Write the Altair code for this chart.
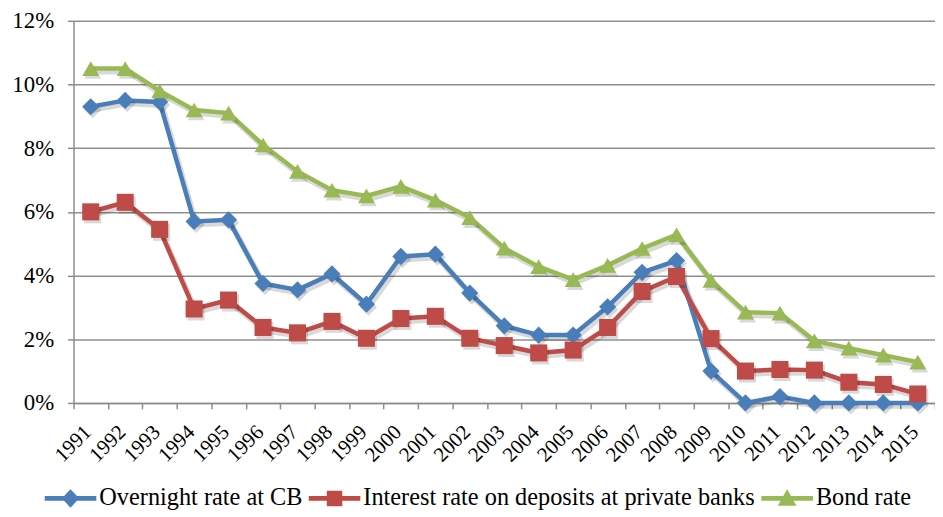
import altair as alt
import pandas as pd

FONT = "Liberation Serif, DejaVu Serif, serif"

years = [str(y) for y in range(1991, 2016)]
series = ["Overnight rate at CB", "Interest rate on deposits at private banks", "Bond rate"]
overnight = [9.3, 9.5, 9.45, 5.7, 5.75, 3.75, 3.55, 4.05, 3.1, 4.6, 4.67, 3.45, 2.42,
             2.13, 2.13, 3.02, 4.1, 4.47, 1.0, 0.0, 0.2, 0.0, 0.0, 0.0, 0.0]
deposits = [6.0, 6.3, 5.45, 2.95, 3.23, 2.37, 2.2, 2.56, 2.03, 2.65, 2.72, 2.03, 1.8,
            1.57, 1.66, 2.37, 3.5, 3.97, 2.02, 1.0, 1.05, 1.03, 0.65, 0.58, 0.28]
bond = [10.5, 10.5, 9.8, 9.2, 9.1, 8.1, 7.27, 6.68, 6.5, 6.8, 6.37, 5.82, 4.86,
        4.28, 3.87, 4.32, 4.85, 5.28, 3.85, 2.85, 2.82, 1.95, 1.72, 1.5, 1.28]
y_ticks = [0, 2, 4, 6, 8, 10, 12]

colors = ["#4A7EBB", "#BE4B48", "#98B954"]
marker_shapes = ["diamond", "square", "triangle-up"]
marker_sizes = [300, 290, 360]
legend_shapes = [
    "M-1,-0.09L-0.25,-0.09L0,-0.36L0.25,-0.09L1,-0.09L1,0.09L0.25,0.09L0,0.36L-0.25,0.09L-1,0.09Z",
    "M-1,-0.09L-0.3,-0.09L-0.3,-0.3L0.3,-0.3L0.3,-0.09L1,-0.09L1,0.09L0.3,0.09L0.3,0.3L-0.3,0.3L-0.3,0.09L-1,0.09Z",
    "M-1,-0.09L-0.15,-0.09L0,-0.36L0.15,-0.09L1,-0.09L1,0.09L0.25,0.09L0.36,0.28L-0.36,0.28L-0.25,0.09L-1,0.09Z",
]

rows = []
for name, vals in zip(series, [overnight, deposits, bond]):
    for yr, v in zip(years, vals):
        rows.append({"year": yr, "value": v, "series": name})
df = pd.DataFrame(rows)

x_enc = alt.X(
    "year:N",
    bandPosition=0.5,
    scale=alt.Scale(type="band", domain=years, paddingInner=0, paddingOuter=0),
    axis=alt.Axis(
        title=None, tickBand="extent", tickSize=6, labelAngle=-45, labelAlign="right",
        labelBaseline="middle", labelPadding=20, labelOffset=-3, labelFontSize=21,
        grid=False, labelFont=FONT,
    ),
)
y_enc = alt.Y(
    "value:Q",
    scale=alt.Scale(domain=[0, 12], nice=False, zero=True),
    axis=alt.Axis(
        title=None, values=y_ticks, labelExpr="datum.value + '%'", tickSize=6,
        labelPadding=14, labelFontSize=23, grid=True, labelFont=FONT,
    ),
)

base = alt.Chart(df).encode(x=x_enc, y=y_enc)

cdom = alt.Scale(domain=series, range=colors)
shape_scale = alt.Scale(domain=series, range=marker_shapes)
size_scale = alt.Scale(domain=series, range=marker_sizes)

shadow_lines = base.mark_line(color="#000000", opacity=0.15, strokeWidth=6, xOffset=2, yOffset=3).encode(
    detail="series:N"
)
lines = base.mark_line(strokeWidth=4.5).encode(
    color=alt.Color("series:N", scale=cdom, legend=None)
)
shadow_points = base.mark_point(filled=True, color="#000000", opacity=0.15, xOffset=2, yOffset=3).encode(
    shape=alt.Shape("series:N", scale=shape_scale, legend=None),
    size=alt.Size("series:N", scale=size_scale, legend=None),
)
points = base.mark_point(filled=True, opacity=1).encode(
    color=alt.Color("series:N", scale=cdom, legend=None),
    shape=alt.Shape("series:N", scale=shape_scale, legend=None),
    size=alt.Size("series:N", scale=size_scale, legend=None),
)

leg = alt.Legend(
    orient="none", legendX=-29, legendY=455, direction="horizontal", title=None,
    symbolSize=2704, symbolStrokeWidth=0, symbolOpacity=1, labelFont=FONT,
    labelFontSize=24.5, labelColor="black", labelOffset=3, columnPadding=6, labelLimit=1000,
)
legend_layer = alt.Chart(df).transform_filter("false").mark_point(filled=True, opacity=1).encode(
    x=x_enc, y=y_enc,
    color=alt.Color("series:N", scale=alt.Scale(domain=series, range=colors), legend=leg),
    shape=alt.Shape("series:N", scale=alt.Scale(domain=series, range=legend_shapes), legend=leg),
)

chart = (
    alt.layer(shadow_lines, lines, shadow_points, points, legend_layer)
    .resolve_scale(color="independent", shape="independent")
    .properties(
        width=868, height=385,
        autosize=alt.AutoSizeParams(type="none"),
        padding={"left": 66, "top": 11, "right": 0, "bottom": 106},
    )
    .configure(font=FONT)
    .configure_view(stroke=None)
    .configure_legend(labelFont=FONT)
    .configure_axis(
        labelFont=FONT, labelColor="black", domainColor="#8c8c8c", domainWidth=1.5,
        tickColor="#8c8c8c", tickWidth=1.5, gridColor="#8f8f8f", gridWidth=1.5,
    )
)

chart.save("out.html", embed_options={"renderer": "svg", "actions": False})
